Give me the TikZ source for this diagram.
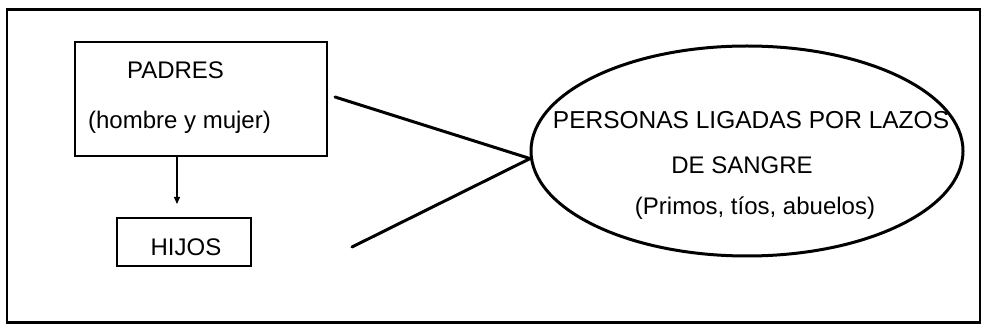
\documentclass[tikz,border=0pt]{standalone}
\usepackage{fontspec}
\setmainfont{Liberation Sans}
\usetikzlibrary{shapes.geometric,arrows.meta}
\begin{document}
\begin{tikzpicture}[x=1pt,y=-1pt,
  lbl/.style={inner sep=0pt,font=\fontsize{24}{28}\selectfont},
  boxst/.style={draw,line width=2.6pt,inner sep=0pt},
  conn/.style={line width=3pt,line cap=round}]
\useasboundingbox (0,0) rectangle (984,328);
\node[draw,line width=2.8pt,minimum width=973pt,minimum height=313pt,inner sep=0pt] (frame) at (493.5,166) {};
% PADRES box
\node[boxst,minimum width=252pt,minimum height=114pt] (padres) at (201,99) {};
\node[lbl] (t1) at (175.5,70) {PADRES};
\node[lbl] (t2) at (179.5,122) {(hombre y mujer)};
% HIJOS box
\node[boxst,minimum width=134pt,minimum height=48pt] (hijos) at (184,242) {};
\node[lbl] (t3) at (186,247) {HIJOS};
% arrow
\coordinate (atip) at (177,204);
\draw[line width=1.4pt,-{Triangle[length=7pt,width=6pt]}] (padres.south -| atip) -- (atip);
% ellipse
\node[draw,ellipse,line width=3pt,minimum width=432pt,minimum height=210pt,inner sep=0pt] (e) at (747,151) {};
\node[lbl,font=\fontsize{24.5}{28}\selectfont] (t4) at (751,120) {PERSONAS LIGADAS POR LAZOS};
\node[lbl] (t5) at (742,165) {DE SANGRE};
\node[lbl] (t6) at (755,208) {(Primos, tíos, abuelos)};
% connectors
\coordinate (c1) at (335,97);
\coordinate (c2) at (352,247);
\draw[conn] (c1) -- (e.182);
\draw[conn] (c2) -- (e.182);
\end{tikzpicture}
\end{document}
